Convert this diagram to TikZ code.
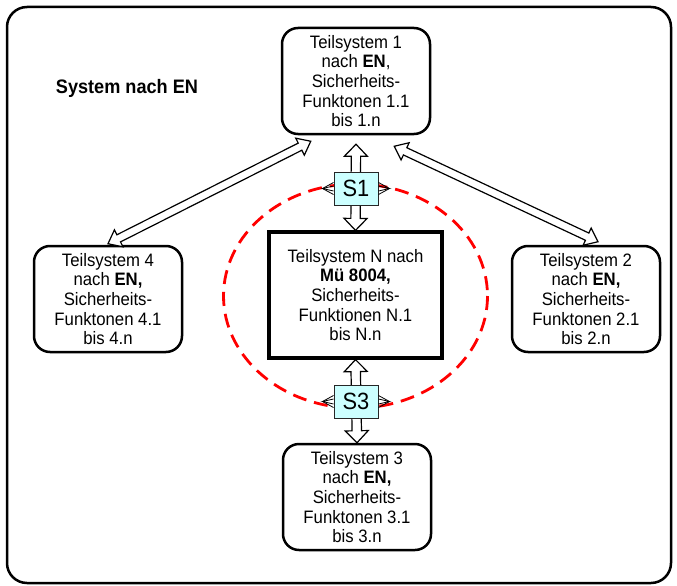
\documentclass[tikz,border=0pt]{standalone}
\usepackage{fontspec}
\setmainfont[FakeStretch=0.93]{Liberation Sans}
\usetikzlibrary{calc}
\newcommand\dblarr[5]{%
 \draw[arrowline] (#1) -- ($(#1)!#3!(#2)!#4!90:(#2)$) -- ($(#1)!#3!(#2)!#5!90:(#2)$)
   -- ($(#2)!#3!(#1)!#5!-90:(#1)$) -- ($(#2)!#3!(#1)!#4!-90:(#1)$) -- (#2)
   -- ($(#2)!#3!(#1)!#4!90:(#1)$) -- ($(#2)!#3!(#1)!#5!90:(#1)$)
   -- ($(#1)!#3!(#2)!#5!-90:(#2)$) -- ($(#1)!#3!(#2)!#4!-90:(#2)$) -- cycle;}
\newcommand\sidewedges[1]{%
 \draw[wedge] ($(#1.west)+(0,-6)$) -- ($(#1.west)+(-11,0)$) -- ($(#1.west)+(0,6)$);
 \draw[wedge] ($(#1.west)+(0,-2.5)$) -- ($(#1.west)+(-11,0)$) -- ($(#1.west)+(0,2.5)$);
 \draw[wedge] ($(#1.east)+(0,-6)$) -- ($(#1.east)+(11,0)$) -- ($(#1.east)+(0,6)$);
 \draw[wedge] ($(#1.east)+(0,-2.5)$) -- ($(#1.east)+(11,0)$) -- ($(#1.east)+(0,2.5)$);}
\begin{document}
\begin{tikzpicture}[x=1pt,y=-1pt,
  frame/.style={draw, line width=2.5pt, rounded corners=20pt},
  rbox/.style={draw, line width=2.5pt, rounded corners=16pt, fill=white,
    minimum width=148pt, minimum height=106pt, inner sep=0pt, align=center,
    font=\fontsize{18}{19.7}\selectfont},
  nbox/.style={draw, line width=3.2pt, fill=white,
    minimum width=173pt, minimum height=126pt, inner sep=0pt, align=center,
    font=\fontsize{18}{19.7}\selectfont},
  sbox/.style={draw=black!85, line width=1pt, fill={rgb,255:red,204;green,255;blue,255},
    minimum width=44pt, minimum height=33pt, inner sep=0pt,
    font=\fontsize{23.5}{26}\selectfont},
  title/.style={font=\fontsize{19.5}{22}\selectfont\bfseries, inner sep=0pt},
  arrowline/.style={draw=black, line width=1.2pt, fill=white, line join=miter},
  wedge/.style={draw=black, line width=0.8pt},
  reddash/.style={draw=red, line width=2.8pt, dash pattern=on 14pt off 8pt}]
\useasboundingbox (0,0) rectangle (677,586);
\draw[frame] (7,7) rectangle (671,583);

\node[title] (sys) at (127,88) {System nach EN};

\node[rbox] (t1) at (356,81) {Teilsystem 1\\nach \textbf{EN},\\Sicherheits-\\Funktonen 1.1\\bis 1.n};
\node[rbox] (t4) at (108,299) {Teilsystem 4\\nach \textbf{EN,}\\Sicherheits-\\Funktonen 4.1\\bis 4.n};
\node[rbox] (t2) at (586,299) {Teilsystem 2\\nach \textbf{EN,}\\Sicherheits-\\Funktonen 2.1\\bis 2.n};
\node[rbox] (t3) at (357,497) {Teilsystem 3\\nach \textbf{EN,}\\Sicherheits-\\Funktonen 3.1\\bis 3.n};

\draw[reddash] (355.5,296) ellipse [x radius=132, y radius=112];

\node[nbox] (n) at (355.5,295) {Teilsystem N nach\\\textbf{Mü 8004,}\\Sicherheits-\\Funktionen N.1\\bis N.n};

\coordinate (v1a) at ($(t1.south)+(0,9)$);
\coordinate (v1b) at (n.north);
\coordinate (v3a) at (n.south);
\coordinate (v3b) at (t3.north);
\coordinate (d4a) at ($(t1.south west)+(30,6)$);
\coordinate (d4b) at ($(t4.north)+(0,-1)$);
\coordinate (d2a) at ($(t1.south east)+(-37,11)$);
\coordinate (d2b) at ($(t2.north)+(12,-3)$);

\dblarr{v1a}{v1b}{12pt}{11.5pt}{4.7pt}
\dblarr{v3a}{v3b}{12pt}{11.5pt}{4.7pt}
\dblarr{d4a}{d4b}{12pt}{9.5pt}{4pt}
\dblarr{d2a}{d2b}{12pt}{9.5pt}{4pt}

\node[sbox] (s1) at (356,188.5) {S1};
\node[sbox] (s3) at (356,401.5) {S3};
\sidewedges{s1}
\sidewedges{s3}
\end{tikzpicture}
\end{document}
